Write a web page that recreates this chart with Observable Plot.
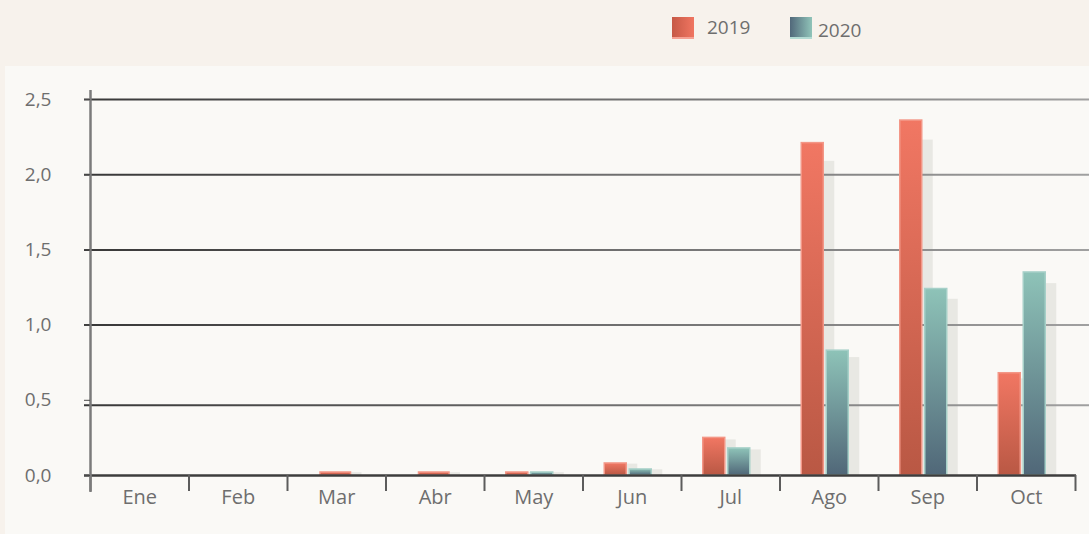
<!DOCTYPE html>
<html><head><meta charset="utf-8">
<script src="https://cdn.jsdelivr.net/npm/d3@7"></script>
<script src="https://cdn.jsdelivr.net/npm/@observablehq/plot@0.6"></script>
<style>
html,body{margin:0;padding:0;background:#f7f2ec;}
body{width:1089px;height:534px;overflow:hidden;font-family:"Open Sans",sans-serif;}
#legend{position:relative;height:66px;}
.sw{position:absolute;width:22px;height:22px;top:17px;box-sizing:border-box;}
.lt{position:absolute;font-size:19px;color:#6e6e6e;line-height:1;white-space:nowrap;}
#panel{margin-left:5px;background:#faf9f6;width:1084px;height:468px;}
</style></head><body>
<div id="legend"></div>
<div id="panel"></div>
<script>
const months = ["Ene","Feb","Mar","Abr","May","Jun","Jul","Ago","Sep","Oct"];
const values2019 = [0, 0, 0.02, 0.02, 0.02, 0.08, 0.25, 2.21, 2.36, 0.68];
const values2020 = [0, 0, 0, 0, 0.02, 0.04, 0.18, 0.83, 1.24, 1.35];
const seriesNames = ["2019", "2020"];
const yTicks = [0, 0.5, 1, 1.5, 2, 2.5];

// legend
const legendSpec = [
  {name: seriesNames[0], swLeft: 672, txtLeft: 707, txtTop: 18, bg: "linear-gradient(to right,#c65946,#f07561)", border: "#f6a193"},
  {name: seriesNames[1], swLeft: 790, txtLeft: 818, txtTop: 21, bg: "linear-gradient(to right,#51687a,#90c4b9)", border: "#b3dbd3"}
];
const legend = document.getElementById("legend");
for (const l of legendSpec) {
  const sw = document.createElement("div");
  sw.className = "sw";
  sw.style.left = l.swLeft + "px";
  sw.style.background = l.bg;
  sw.style.borderBottom = "2px solid " + l.border;
  legend.appendChild(sw);
  const t = document.createElement("div");
  t.className = "lt";
  t.style.left = l.txtLeft + "px";
  t.style.top = l.txtTop + "px";
  t.textContent = l.name;
  legend.appendChild(t);
}

const W = 1084, H = 468;
const mL = 85, mR = 14, mT = 33, mB = 59;
const bw = (W - mL - mR) / months.length;

const rows = months.flatMap((m, i) => [
  {month: m, series: seriesNames[0], value: values2019[i], other: values2020[i]},
  {month: m, series: seriesNames[1], value: values2020[i], other: values2019[i]}
]).filter(d => d.value > 0);
const p2019 = rows.filter(d => d.series === "2019" && d.other > 0);
const p2020 = rows.filter(d => d.series === "2020" && d.other > 0);
const solo = rows.filter(d => !(d.other > 0));

const ins2019 = {insetLeft: 21.75, insetRight: bw - 43.75};
const ins2020 = {insetLeft: 46.75, insetRight: bw - 68.75};
const insSolo = {insetLeft: 33, insetRight: bw - 63.5};
const shadowK = 0.945;
const shadow = {fill: "#e6e5e1", fillOpacity: 0.9, dx: 11};
const fmt = d => d3.format(".1f")(d).replace(".", ",");

const chart = Plot.plot({
  width: W, height: H,
  marginLeft: mL, marginRight: mR, marginTop: mT, marginBottom: mB,
  style: {background: "#faf9f6", fontFamily: "Open Sans, sans-serif", fontSize: "19px", color: "#6e6e6e"},
  x: {type: "band", domain: months, paddingInner: 0, paddingOuter: 0, round: false},
  y: {domain: [0, 2.5]},
  marks: [
    // shadows
    Plot.barY(p2019, {x: "month", y: d => d.value * shadowK, ...ins2019, ...shadow}),
    Plot.barY(p2020, {x: "month", y: d => d.value * shadowK, ...ins2020, ...shadow}),
    Plot.barY(solo, {x: "month", y: d => d.value * shadowK, ...insSolo, ...shadow}),
    // grid
    Plot.ruleY(yTicks.filter(t => t > 0.5), {y: d => d, stroke: "url(#gridG)", strokeWidth: 2, insetLeft: -6, insetRight: -mR}),
    Plot.ruleY(yTicks.filter(t => t === 0.5), {y: d => d, stroke: "url(#gridG)", strokeWidth: 2, insetLeft: -6, insetRight: -mR, dy: 5}),
    // bars
    Plot.barY(p2019, {x: "month", y: "value", ...ins2019, fill: "url(#g2019)", stroke: "#f39787", strokeWidth: 1.5}),
    Plot.barY(p2020, {x: "month", y: "value", ...ins2020, fill: "url(#g2020)", stroke: "#a6d0c8", strokeWidth: 1.5}),
    Plot.barY(solo, {x: "month", y: "value", ...insSolo, fill: "url(#g2019)", stroke: "#f39787", strokeWidth: 1.5}),
    // zero line
    Plot.ruleY([0], {stroke: "#3d3d3d", strokeWidth: 2.5, insetLeft: -6, insetRight: -1}),
    // x boundary ticks
    Plot.ruleX(months, {x: d => d, y1: 0, y2: 0, dx: -bw / 2, insetBottom: -16, stroke: "#5c5c5c", strokeWidth: 2}),
    Plot.ruleX(months.slice(-1), {x: d => d, y1: 0, y2: 0, dx: bw / 2, insetBottom: -16, stroke: "#5c5c5c", strokeWidth: 2}),
    // y axis line
    Plot.ruleX(months.slice(0, 1), {x: d => d, y1: 2.5, y2: 0, dx: -bw / 2, insetTop: -9, insetBottom: -17, stroke: "#7b7b7b", strokeWidth: 2.5}),
    Plot.axisY(yTicks, {tickSize: 6, tickPadding: 33, tickFormat: fmt, fontSize: 19, color: "#6e6e6e", stroke: "#4a4a4a", label: null}),
    Plot.axisX(months, {tickSize: 0, tickPadding: 14, fontSize: 20, color: "#6e6e6e", label: null})
  ]
});

const defs = d3.select(chart).insert("defs", ":first-child");
function vgrad(id, top, bottom) {
  const g = defs.append("linearGradient").attr("id", id).attr("x1", 0).attr("y1", 0).attr("x2", 0).attr("y2", 1);
  g.append("stop").attr("offset", "0%").attr("stop-color", top);
  g.append("stop").attr("offset", "100%").attr("stop-color", bottom);
}
vgrad("g2019", "#f17763", "#b95844");
vgrad("g2020", "#8ec3b8", "#506778");
const gg = defs.append("linearGradient").attr("id", "gridG").attr("gradientUnits", "userSpaceOnUse")
  .attr("x1", mL - 6).attr("y1", 0).attr("x2", W).attr("y2", 0);
gg.append("stop").attr("offset", "0%").attr("stop-color", "#383838");
gg.append("stop").attr("offset", "100%").attr("stop-color", "#a0a0a0");

document.getElementById("panel").appendChild(chart);
</script>
</body></html>
